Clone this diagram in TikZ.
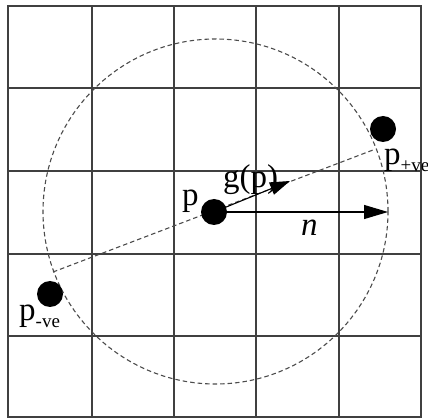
\documentclass[tikz,border=0pt]{standalone}
\usepackage{fontspec}
\setmainfont{Liberation Serif}
\usetikzlibrary{arrows.meta}
\begin{document}
\begin{tikzpicture}[x=1pt,y=-1pt,
  gridline/.style={draw=black!75,line width=1.3pt},
  dashline/.style={draw=black!70,line width=1.1pt,dash pattern=on 4.5pt off 3pt},
  dot/.style={circle,fill=black,inner sep=0pt,minimum size=26pt},
  lbl/.style={inner sep=0pt,anchor=base west,font=\fontsize{33}{33}\selectfont},
  vec/.style={draw=black,line width=1.1pt},
  tipA/.style={-{Triangle[length=20pt,width=13pt]}},
  tipB/.style={-{Triangle[length=24pt,width=14pt]}}]
\useasboundingbox (0,0) rectangle (428,419);
% grid
\draw[gridline] (8,6) rectangle (421,417);
\foreach \gx in {92,174,256,339} \draw[gridline] (\gx,6) -- (\gx,417);
\foreach \gy in {88,171,254,336} \draw[gridline] (8,\gy) -- (421,\gy);
% dashed circle and line
\coordinate (c) at (215.5,211.5);
\draw[dashline] (c) circle[radius=172.5pt];
\coordinate (a) at (53,272);
\coordinate (b) at (373,150);
\draw[dashline] (a) -- (b);
% dots
\node[dot] (p) at (214,212) {};
\node[dot] (pp) at (383,129) {};
\node[dot] (pm) at (50,294) {};
% arrows
\coordinate (gtip) at (290,181);
\coordinate (ntip) at (388,212);
\draw[vec,tipA] (p.center) -- (gtip);
\draw[vec,tipB] (p.center) -- (ntip);
% labels
\node[lbl] (lp) at (182,206) {p};
\node[lbl] (lg) at (223,188) {g(p)};
\node[lbl] (ln) at (301,236) {\itshape n};
\node[lbl] (lpp) at (384,165) {p\raisebox{-7pt}{\fontsize{19}{19}\selectfont +ve}};
\node[lbl] (lpm) at (19,320) {p\raisebox{-7pt}{\fontsize{19}{19}\selectfont -ve}};
\end{tikzpicture}
\end{document}
